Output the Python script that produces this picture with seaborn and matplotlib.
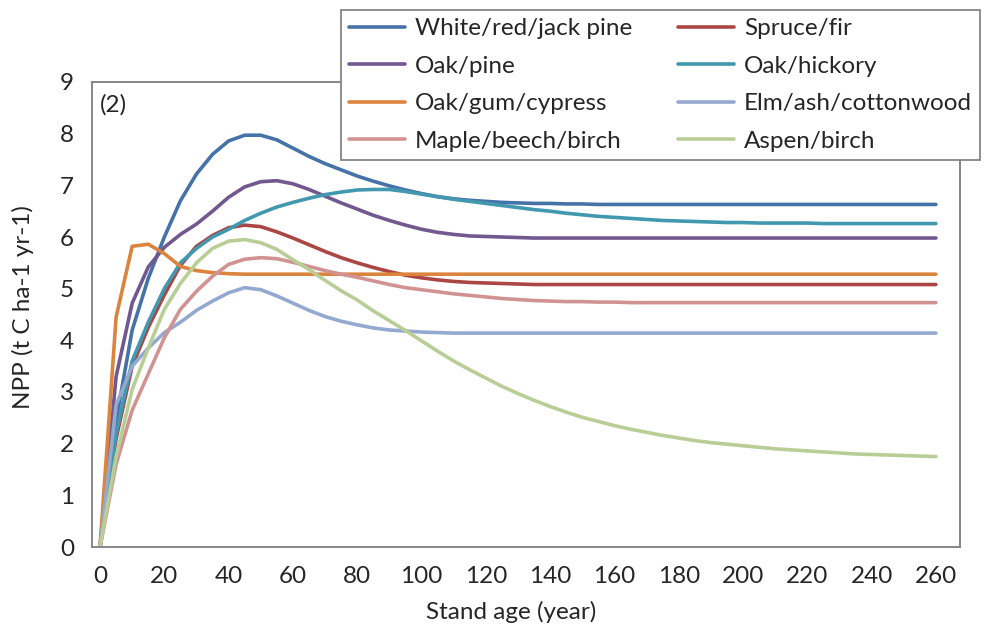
import matplotlib
matplotlib.use("Agg")
import matplotlib.pyplot as plt
import seaborn as sns
import pandas as pd

# stand age, every 5 years
years = list(range(0, 261, 5))

pine = [0, 2.45, 4.2, 5.2, 6.0, 6.7, 7.22, 7.6, 7.86, 7.97,
        7.97, 7.88, 7.72, 7.56, 7.42, 7.3, 7.18, 7.08, 6.99, 6.91,
        6.84, 6.78, 6.74, 6.71, 6.69, 6.67, 6.66, 6.65, 6.65, 6.64,
        6.64, 6.63, 6.63, 6.63, 6.63, 6.63, 6.63, 6.63, 6.63, 6.63,
        6.63, 6.63, 6.63, 6.63, 6.63, 6.63, 6.63, 6.63, 6.63, 6.63,
        6.63, 6.63, 6.63]
spruce = [0, 2.1, 3.5, 4.25, 4.88, 5.45, 5.82, 6.03, 6.18, 6.23,
          6.2, 6.1, 5.98, 5.85, 5.72, 5.6, 5.5, 5.41, 5.33, 5.26,
          5.21, 5.17, 5.14, 5.12, 5.11, 5.1, 5.09, 5.08, 5.08, 5.08,
          5.08, 5.08, 5.08, 5.08, 5.08, 5.08, 5.08, 5.08, 5.08, 5.08,
          5.08, 5.08, 5.08, 5.08, 5.08, 5.08, 5.08, 5.08, 5.08, 5.08,
          5.08, 5.08, 5.08]
oak_pine = [0, 3.3, 4.72, 5.42, 5.8, 6.05, 6.25, 6.5, 6.77, 6.97,
            7.07, 7.09, 7.03, 6.92, 6.79, 6.66, 6.54, 6.42, 6.32, 6.23,
            6.15, 6.09, 6.05, 6.02, 6.01, 6.0, 5.99, 5.98, 5.98, 5.98,
            5.98, 5.98, 5.98, 5.98, 5.98, 5.98, 5.98, 5.98, 5.98, 5.98,
            5.98, 5.98, 5.98, 5.98, 5.98, 5.98, 5.98, 5.98, 5.98, 5.98,
            5.98, 5.98, 5.98]
oak_hickory = [0, 2.2, 3.6, 4.35, 5.0, 5.5, 5.78, 6.0, 6.15, 6.32,
               6.46, 6.58, 6.67, 6.75, 6.82, 6.87, 6.91, 6.92, 6.92, 6.88,
               6.83, 6.78, 6.73, 6.69, 6.65, 6.61, 6.57, 6.53, 6.5, 6.46,
               6.43, 6.4, 6.38, 6.36, 6.34, 6.32, 6.31, 6.3, 6.29, 6.28,
               6.28, 6.27, 6.27, 6.27, 6.27, 6.26, 6.26, 6.26, 6.26, 6.26,
               6.26, 6.26, 6.26]
oak_gum = [0, 4.45, 5.82, 5.86, 5.68, 5.43, 5.35, 5.31, 5.29, 5.28,
           5.28, 5.28, 5.28, 5.28, 5.28, 5.28, 5.28, 5.28, 5.28, 5.28,
           5.28, 5.28, 5.28, 5.28, 5.28, 5.28, 5.28, 5.28, 5.28, 5.28,
           5.28, 5.28, 5.28, 5.28, 5.28, 5.28, 5.28, 5.28, 5.28, 5.28,
           5.28, 5.28, 5.28, 5.28, 5.28, 5.28, 5.28, 5.28, 5.28, 5.28,
           5.28, 5.28, 5.28]
elm = [0, 2.75, 3.5, 3.85, 4.15, 4.35, 4.58, 4.76, 4.92, 5.02,
       4.98, 4.86, 4.72, 4.58, 4.46, 4.37, 4.3, 4.24, 4.2, 4.18,
       4.16, 4.15, 4.14, 4.14, 4.14, 4.14, 4.14, 4.14, 4.14, 4.14,
       4.14, 4.14, 4.14, 4.14, 4.14, 4.14, 4.14, 4.14, 4.14, 4.14,
       4.14, 4.14, 4.14, 4.14, 4.14, 4.14, 4.14, 4.14, 4.14, 4.14,
       4.14, 4.14, 4.14]
maple = [0, 1.6, 2.65, 3.35, 4.05, 4.6, 4.95, 5.24, 5.47, 5.57,
         5.6, 5.58, 5.51, 5.43, 5.35, 5.28, 5.22, 5.15, 5.08, 5.02,
         4.98, 4.94, 4.9, 4.87, 4.84, 4.81, 4.79, 4.77, 4.76, 4.75,
         4.75, 4.74, 4.74, 4.73, 4.73, 4.73, 4.73, 4.73, 4.73, 4.73,
         4.73, 4.73, 4.73, 4.73, 4.73, 4.73, 4.73, 4.73, 4.73, 4.73,
         4.73, 4.73, 4.73]
aspen = [0, 1.75, 3.05, 3.85, 4.6, 5.1, 5.5, 5.78, 5.92, 5.95,
         5.89, 5.76, 5.56, 5.37, 5.16, 4.96, 4.78, 4.57, 4.38, 4.19,
         3.99, 3.79, 3.6, 3.43, 3.27, 3.11, 2.97, 2.84, 2.72, 2.61,
         2.51, 2.43, 2.35, 2.28, 2.22, 2.16, 2.11, 2.06, 2.02, 1.99,
         1.96, 1.93, 1.9, 1.88, 1.86, 1.84, 1.82, 1.8, 1.79, 1.78,
         1.77, 1.76, 1.75]

names = ["White/red/jack pine", "Spruce/fir", "Oak/pine", "Oak/hickory",
         "Oak/gum/cypress", "Elm/ash/cottonwood", "Maple/beech/birch", "Aspen/birch"]
colors = ["#4572A7", "#AA4643", "#71588F", "#4198AF",
          "#DB843D", "#93A9CF", "#D19392", "#B9CD96"]

series = [pine, spruce, oak_pine, oak_hickory, oak_gum, elm, maple, aspen]
frames = []
for name, vals in zip(names, series):
    frames.append(pd.DataFrame({"age": years, "npp": vals, "type": name}))
df = pd.concat(frames)

sns.set_style("white")
plt.rcParams["font.family"] = ["Lato", "DejaVu Sans"]
fs = 17.5

fig = plt.figure(figsize=(9.92, 6.26), dpi=100)
ax = fig.add_axes([92/992, 1-547/626, 868/992, 465/626])

sns.lineplot(data=df, x="age", y="npp", hue="type", hue_order=names,
             palette=dict(zip(names, colors)), linewidth=2.6, legend=False, ax=ax)

ax.set_xlim(-2.5, 262.5)
ax.set_ylim(0, 9)
ax.set_xticks(range(0, 261, 20))
ax.set_xticks([x - 2.5 for x in range(0, 271, 10)], minor=True)
ax.set_yticks(range(0, 10))
ax.tick_params(axis="x", which="major", length=0, pad=14, labelsize=fs)
ax.tick_params(axis="x", which="minor", length=7, width=1.3, color="#868686", direction="out")
ax.tick_params(axis="y", length=7, width=1.3, color="#868686", direction="out", pad=6, labelsize=fs)
for s in ax.spines.values():
    s.set_color("#868686")
    s.set_linewidth(1.4)

ax.set_xlabel("Stand age (year)", fontsize=fs)
ax.set_ylabel("NPP (t C ha-1 yr-1)", fontsize=fs)
ax.xaxis.set_label_coords(0.483, -0.115)
ax.yaxis.set_label_coords(-0.067, 0.516)
ax.text(0.009, 0.95, "(2)", transform=ax.transAxes, fontsize=fs, va="center")

# legend filled column-wise, so reorder to get the 2-column layout
lines = ax.get_lines()
order = [0, 2, 4, 6, 1, 3, 5, 7]
leg = fig.legend([lines[i] for i in order], [names[i] for i in order],
                 ncol=2, loc="upper right", bbox_to_anchor=(980/992, 1-10/626),
                 borderaxespad=0, fontsize=fs, frameon=True, fancybox=False,
                 framealpha=1, edgecolor="#868686", handlelength=2.3,
                 handletextpad=0.4, columnspacing=1.9, labelspacing=0.68,
                 borderpad=0.33)
leg.get_frame().set_linewidth(1.3)

fig.savefig("out.png", dpi=100)
